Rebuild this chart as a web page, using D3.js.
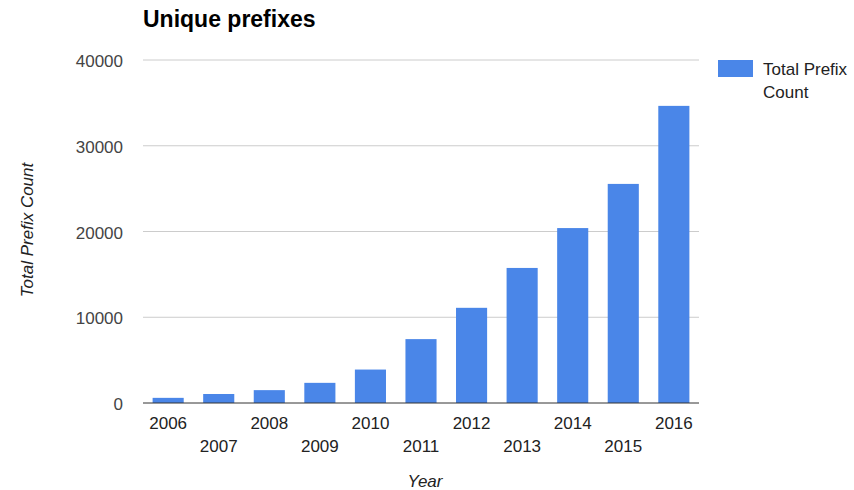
<html>
<head>
<script src="https://d3js.org/d3.v7.min.js"></script>
<style>
  body { margin: 0; background: #fff; }
  text { font-family: "Liberation Sans", Arial, sans-serif; }
</style>
</head>
<body>
<svg id="chart" width="854" height="490"></svg>
<script>
// data
var years = ["2006","2007","2008","2009","2010","2011","2012","2013","2014","2015","2016"];
var counts = [600, 1050, 1500, 2350, 3900, 7450, 11100, 15750, 20400, 25550, 34650];
var yTicks = [0, 10000, 20000, 30000, 40000];
var seriesName = "Total Prefix Count";

var svg = d3.select("#chart");

// plot area
var plotLeft = 143, plotRight = 699, plotTop = 60, plotBottom = 403;
var fs = "17px";

var x = d3.scaleBand()
  .domain(years)
  .range([plotLeft, plotRight])
  .paddingInner(0.385)
  .paddingOuter(0.19);

var y = d3.scaleLinear()
  .domain([0, 40000])
  .range([plotBottom, plotTop]);

// title
svg.append("text")
  .attr("x", 143).attr("y", 27)
  .style("font-size", "23px").style("font-weight", "bold")
  .attr("fill", "#000")
  .text("Unique prefixes");

// gridlines
svg.append("g")
  .selectAll("line")
  .data(yTicks.filter(function(d){ return d > 0; }))
  .enter().append("line")
    .attr("x1", plotLeft).attr("x2", plotRight)
    .attr("y1", function(d){ return y(d); })
    .attr("y2", function(d){ return y(d); })
    .attr("stroke", "#cccccc").attr("stroke-width", 1);

// y tick labels
svg.append("g")
  .selectAll("text")
  .data(yTicks)
  .enter().append("text")
    .attr("x", 123)
    .attr("y", function(d){ return y(d) + 7; })
    .attr("text-anchor", "end")
    .style("font-size", fs)
    .attr("fill", "#444")
    .text(function(d){ return d; });

// bars
svg.append("g")
  .selectAll("rect")
  .data(counts)
  .enter().append("rect")
    .attr("x", function(d, i){ return x(years[i]); })
    .attr("width", x.bandwidth())
    .attr("y", function(d){ return y(d); })
    .attr("height", function(d){ return plotBottom - y(d); })
    .attr("fill", "#4a86e8");

// baseline
svg.append("line")
  .attr("x1", plotLeft).attr("x2", plotRight)
  .attr("y1", plotBottom).attr("y2", plotBottom)
  .attr("stroke", "#333").attr("stroke-width", 1);

// x labels, staggered
svg.append("g")
  .selectAll("text")
  .data(years)
  .enter().append("text")
    .attr("x", function(d){ return x(d) + x.bandwidth() / 2; })
    .attr("y", function(d, i){ return i % 2 == 0 ? 429 : 452; })
    .attr("text-anchor", "middle")
    .style("font-size", fs)
    .attr("fill", "#222")
    .text(function(d){ return d; });

// axis titles
svg.append("text")
  .attr("x", 425).attr("y", 487)
  .attr("text-anchor", "middle")
  .style("font-size", fs).style("font-style", "italic")
  .attr("fill", "#222")
  .text("Year");

svg.append("text")
  .attr("transform", "translate(33,230) rotate(-90)")
  .attr("text-anchor", "middle")
  .style("font-size", fs).style("font-style", "italic")
  .attr("fill", "#222")
  .text(seriesName);

// legend
svg.append("rect")
  .attr("x", 718).attr("y", 60)
  .attr("width", 35).attr("height", 17)
  .attr("fill", "#4a86e8");
svg.append("text")
  .attr("x", 763).attr("y", 75)
  .style("font-size", fs).attr("fill", "#222")
  .text("Total Prefix");
svg.append("text")
  .attr("x", 763).attr("y", 98)
  .style("font-size", fs).attr("fill", "#222")
  .text("Count");
</script>
</body>
</html>
